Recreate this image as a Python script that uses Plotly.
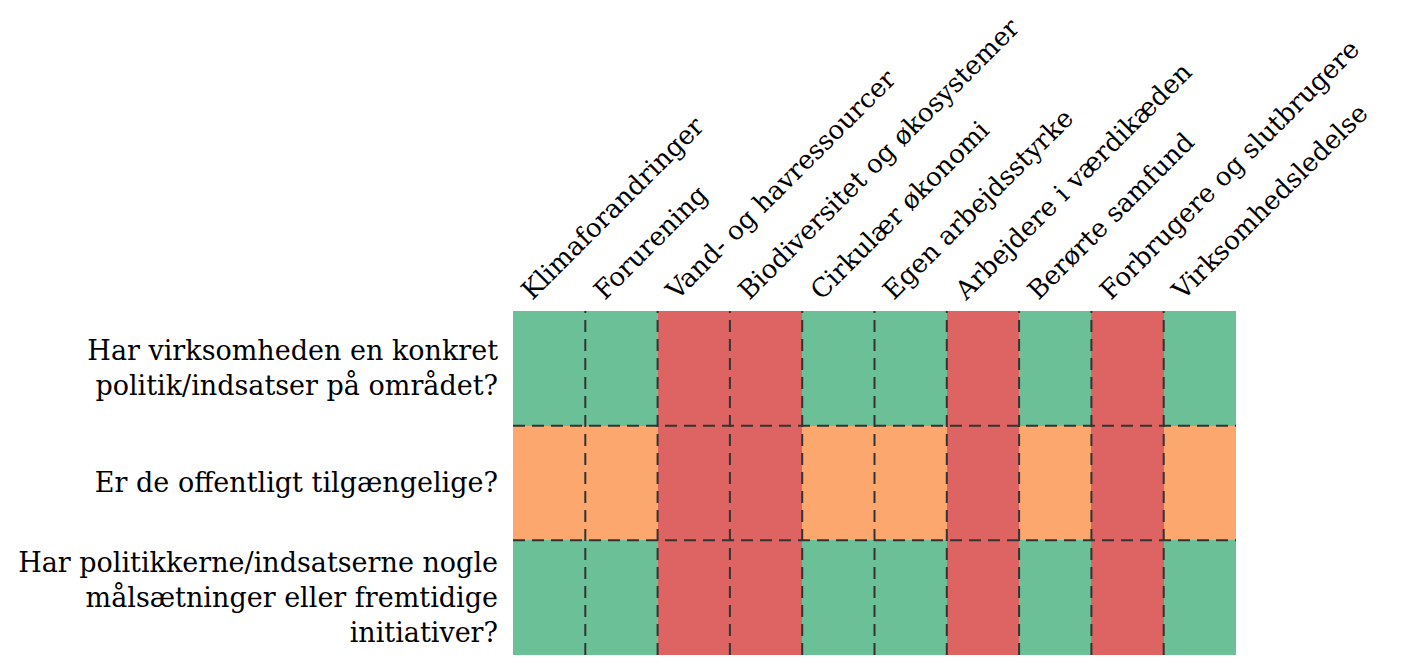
import plotly.graph_objects as go

categories = ["Klimaforandringer", "Forurening", "Vand- og havressourcer",
              "Biodiversitet og økosystemer", "Cirkulær økonomi", "Egen arbejdsstyrke",
              "Arbejdere i værdikæden", "Berørte samfund", "Forbrugere og slutbrugere",
              "Virksomhedsledelse"]
questions = ["Har virksomheden en konkret<br>politik/indsatser på området?",
             "Er de offentligt tilgængelige?",
             "Har politikkerne/indsatserne nogle<br>målsætninger eller fremtidige<br>initiativer?"]
# 0 = nej (rød), 1 = delvist (orange), 2 = ja (grøn)
row_politik = [2, 2, 0, 0, 2, 2, 0, 2, 0, 2]
row_offentlig = [1, 1, 0, 0, 1, 1, 0, 1, 0, 1]
row_maal = [2, 2, 0, 0, 2, 2, 0, 2, 0, 2]

RED, ORANGE, GREEN = "#dd6463", "#fca76e", "#6bc097"

z = [row_politik, row_offentlig, row_maal]
fig = go.Figure(go.Heatmap(
    z=z, x=list(range(len(categories))), y=list(range(len(questions))),
    zmin=0, zmax=2,
    colorscale=[[0, RED], [0.333, RED], [0.333, ORANGE], [0.666, ORANGE], [0.666, GREEN], [1, GREEN]],
    showscale=False, hoverinfo="skip"))

shapes = []
for i in range(1, len(categories)):
    shapes.append(dict(type="line", xref="x", yref="paper", x0=i - 0.5, x1=i - 0.5, y0=0, y1=1,
                       line=dict(color="#333333", width=2, dash="12px,7px"), layer="above"))
for j in range(1, len(questions)):
    shapes.append(dict(type="line", xref="paper", yref="y", x0=0, x1=1, y0=j - 0.5, y1=j - 0.5,
                       line=dict(color="#333333", width=2, dash="12px,7px"), layer="above"))

fig.update_layout(
    width=1404, height=658,
    margin=dict(l=505, r=176, t=303, b=11),
    paper_bgcolor="white", plot_bgcolor="white",
    font=dict(family="DejaVu Serif", size=27, color="black"),
    shapes=shapes,
    xaxis=dict(side="top", tickangle=-45, tickvals=list(range(len(categories))),
               ticktext=categories, showgrid=False, zeroline=False, ticks="",
               tickfont=dict(size=26), ticklabelshift=-26,
               range=[-0.5, len(categories) - 0.5], automargin=False),
    yaxis=dict(tickvals=list(range(len(questions))), ticktext=questions,
               showgrid=False, zeroline=False, ticks="", ticklabelstandoff=14,
               range=[len(questions) - 0.5, -0.5], automargin=False),
)
fig.write_html("out.html")
